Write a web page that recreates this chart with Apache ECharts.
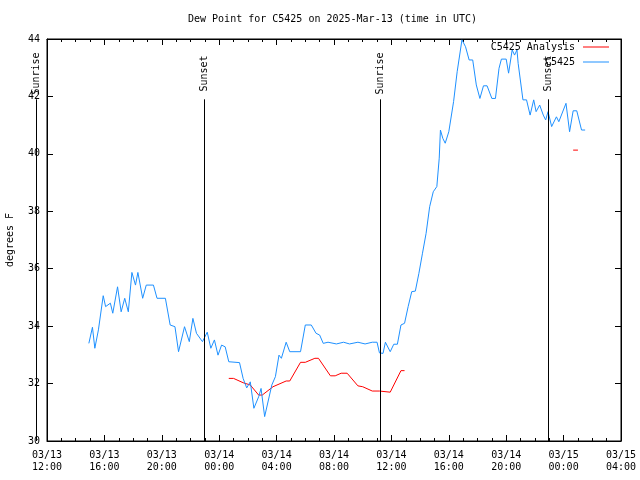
<!DOCTYPE html>
<html><head><meta charset="utf-8">
<script src="https://cdn.jsdelivr.net/npm/echarts@6/dist/echarts.min.js"></script>
<style>html,body{margin:0;padding:0;background:#fff}#c{width:640px;height:480px}</style>
</head><body><div id="c"></div>
<script>
const titleText = 'Dew Point for C5425 on 2025-Mar-13 (time in UTC)';
const yAxisName = 'degrees F';
const xMinTime = '2025-03-13 12:00';
const xMaxTime = '2025-03-15 04:00';
const yMin = 30, yMax = 44, yStep = 2;

const obsName = 'C5425';
const obsTimes = [
'2025-03-13 14:55','2025-03-13 15:10','2025-03-13 15:20','2025-03-13 15:35','2025-03-13 15:55',
'2025-03-13 16:05','2025-03-13 16:25','2025-03-13 16:35','2025-03-13 16:55','2025-03-13 17:10',
'2025-03-13 17:25','2025-03-13 17:40','2025-03-13 17:55','2025-03-13 18:10','2025-03-13 18:20',
'2025-03-13 18:40','2025-03-13 18:55','2025-03-13 19:25','2025-03-13 19:40','2025-03-13 20:15',
'2025-03-13 20:35','2025-03-13 20:55','2025-03-13 21:10','2025-03-13 21:35','2025-03-13 21:55',
'2025-03-13 22:10','2025-03-13 22:25','2025-03-13 22:50','2025-03-13 23:10','2025-03-13 23:25',
'2025-03-13 23:40','2025-03-13 23:55','2025-03-14 00:10','2025-03-14 00:25','2025-03-14 00:40',
'2025-03-14 01:25','2025-03-14 01:40','2025-03-14 01:55','2025-03-14 02:10','2025-03-14 02:25',
'2025-03-14 02:45','2025-03-14 02:55','2025-03-14 03:10','2025-03-14 03:40','2025-03-14 03:55',
'2025-03-14 04:10','2025-03-14 04:20','2025-03-14 04:40','2025-03-14 04:55','2025-03-14 05:40',
'2025-03-14 06:00','2025-03-14 06:25','2025-03-14 06:45','2025-03-14 07:00','2025-03-14 07:15',
'2025-03-14 07:35','2025-03-14 08:10','2025-03-14 08:40','2025-03-14 09:05','2025-03-14 09:40',
'2025-03-14 10:10','2025-03-14 10:40','2025-03-14 11:00','2025-03-14 11:10','2025-03-14 11:25',
'2025-03-14 11:35','2025-03-14 11:55','2025-03-14 12:10','2025-03-14 12:25','2025-03-14 12:40',
'2025-03-14 12:55','2025-03-14 13:10','2025-03-14 13:25','2025-03-14 13:40','2025-03-14 13:55',
'2025-03-14 14:10','2025-03-14 14:25','2025-03-14 14:40','2025-03-14 14:55','2025-03-14 15:10',
'2025-03-14 15:20','2025-03-14 15:25','2025-03-14 15:35','2025-03-14 15:45','2025-03-14 16:00',
'2025-03-14 16:20','2025-03-14 16:35','2025-03-14 16:55','2025-03-14 17:10','2025-03-14 17:25',
'2025-03-14 17:40','2025-03-14 17:55','2025-03-14 18:10','2025-03-14 18:25','2025-03-14 18:40',
'2025-03-14 19:00','2025-03-14 19:15','2025-03-14 19:30','2025-03-14 19:40','2025-03-14 20:00',
'2025-03-14 20:10','2025-03-14 20:25','2025-03-14 20:35','2025-03-14 20:45','2025-03-14 20:50',
'2025-03-14 21:10','2025-03-14 21:25','2025-03-14 21:40','2025-03-14 21:55','2025-03-14 22:05',
'2025-03-14 22:20','2025-03-14 22:35','2025-03-14 22:45','2025-03-14 22:55','2025-03-14 23:10',
'2025-03-14 23:30','2025-03-14 23:40','2025-03-15 00:10','2025-03-15 00:25','2025-03-15 00:40',
'2025-03-15 00:55','2025-03-15 01:15','2025-03-15 01:30'
];
const obsValues = [
33.40,33.96,33.23,33.87,35.06,
34.68,34.80,34.45,35.37,34.50,
34.97,34.50,35.87,35.43,35.87,
34.97,35.43,35.43,34.97,34.97,
34.04,33.98,33.11,33.98,33.46,
34.27,33.75,33.46,33.79,33.23,
33.52,32.99,33.34,33.28,32.76,
32.73,32.18,31.85,32.06,31.14,
31.54,31.83,30.85,31.95,32.24,
32.99,32.88,33.44,33.11,33.11,
34.04,34.04,33.75,33.69,33.40,
33.44,33.38,33.44,33.38,33.44,
33.38,33.44,33.44,33.07,33.05,
33.44,33.11,33.37,33.37,34.04,
34.10,34.68,35.20,35.22,35.84,
36.54,37.23,38.16,38.68,38.86,
39.85,40.83,40.54,40.37,40.77,
41.82,42.86,43.97,43.73,43.27,
43.27,42.40,41.93,42.37,42.37,
41.93,41.93,42.98,43.30,43.30,
42.81,43.62,43.44,43.62,43.15,
41.88,41.88,41.35,41.88,41.47,
41.70,41.35,41.18,41.47,40.95,
41.29,41.12,41.76,40.77,41.50,
41.50,40.83,40.83
];

const anaName = 'C5425 Analysis';
const anaTimes = [
'2025-03-14 00:40','2025-03-14 01:00','2025-03-14 01:40','2025-03-14 02:10','2025-03-14 02:45',
'2025-03-14 03:00','2025-03-14 03:45','2025-03-14 04:40','2025-03-14 04:55','2025-03-14 05:40',
'2025-03-14 06:00','2025-03-14 06:40','2025-03-14 06:55','2025-03-14 07:45','2025-03-14 08:05',
'2025-03-14 08:30','2025-03-14 08:55','2025-03-14 09:40','2025-03-14 10:00','2025-03-14 10:40',
'2025-03-14 11:10','2025-03-14 11:55','2025-03-14 12:40','2025-03-14 12:55',
'2025-03-14 18:00',
'2025-03-15 00:40','2025-03-15 01:00'
];
const anaValues = [
32.18,32.18,32.03,31.95,31.60,
31.60,31.89,32.09,32.09,32.74,
32.74,32.88,32.88,32.27,32.27,
32.36,32.36,31.92,31.89,31.74,
31.74,31.70,32.45,32.45,
null,
40.13,40.13
];

const eventTimes = ['2025-03-13 11:13','2025-03-13 22:56','2025-03-14 11:12','2025-03-14 22:55'];
const eventLabels = ['Sunrise','Sunset','Sunrise','Sunset'];

function t(s){
  const p = s.split(' '); const d = p[0].split('-').map(Number); const h = p[1].split(':').map(Number);
  return Date.UTC(d[0], d[1]-1, d[2], h[0], h[1]);
}
function pad(n){ return (n<10?'0':'')+n; }
function fmt(v){
  const d = new Date(v);
  return pad(d.getUTCMonth()+1)+'/'+pad(d.getUTCDate())+'\n'+pad(d.getUTCHours())+':'+pad(d.getUTCMinutes());
}
const FONT = '"DejaVu Sans Mono", monospace';
const HOUR = 3600000;
const xMin = t(xMinTime), xMax = t(xMaxTime);

const obsData = obsTimes.map((s,i)=>[t(s), obsValues[i]]);
const anaData = anaTimes.map((s,i)=>[t(s), anaValues[i]]);
const evData = eventTimes.map((s,i)=>[t(s), i]);

const chart = echarts.init(document.getElementById('c'), null, {renderer:'canvas'});
const xCommon = {
  type:'value', min:xMin, max:xMax, interval:4*HOUR,
  axisLine:{show:true, lineStyle:{color:'#000', width:1}},
  axisTick:{show:true, inside:true, length:6, lineStyle:{color:'#000'}},
  minorTick:{show:true, splitNumber:4, length:3, lineStyle:{color:'#000'}},
  splitLine:{show:false}
};
const yCommon = {
  type:'value', min:yMin, max:yMax, interval:yStep,
  axisLine:{show:true, lineStyle:{color:'#000', width:1}},
  axisTick:{show:true, inside:true, length:6, lineStyle:{color:'#000'}},
  splitLine:{show:false}
};
const legendCommon = {right:31, padding:0, align:'right', itemWidth:26, itemHeight:1, icon:'rect',
  selectedMode:false, textStyle:{fontFamily:FONT, fontSize:10, color:'#000', padding:[0,3,0,0]}};
chart.setOption({
  animation:false,
  backgroundColor:'#fff',
  title:{text:titleText, left:188, top:14, padding:0,
    textStyle:{fontFamily:FONT, fontSize:10, fontWeight:'normal', color:'#000'}},
  legend:[
    Object.assign({data:[anaName], top:42}, legendCommon),
    Object.assign({data:[obsName], top:57}, legendCommon)
  ],
  grid:{left:47, right:19, top:39, bottom:39, show:true, borderColor:'#000', borderWidth:1,
    containLabel:false, outerBoundsMode:'none'},
  xAxis:[
    Object.assign({}, xCommon, {position:'bottom',
      axisLabel:{show:true, formatter:fmt, fontFamily:FONT, fontSize:10, color:'#000', lineHeight:12, margin:8, showMinLabel:true, showMaxLabel:true}}),
    Object.assign({}, xCommon, {position:'top', axisLabel:{show:false}})
  ],
  yAxis:[
    Object.assign({}, yCommon, {position:'left', name:yAxisName, nameLocation:'middle', nameGap:32,
      nameTextStyle:{fontFamily:FONT, fontSize:10, color:'#000'},
      axisLabel:{show:true, fontFamily:FONT, fontSize:10, color:'#000', margin:7}}),
    Object.assign({}, yCommon, {position:'right', axisLabel:{show:false}})
  ],
  series:[
    {name:anaName, type:'line', data:anaData, symbol:'none', showSymbol:false, connectNulls:false,
      lineStyle:{color:'#ff0000', width:1}, itemStyle:{color:'#ff0000'}, z:3},
    {name:obsName, type:'line', data:obsData, symbol:'none', showSymbol:false,
      lineStyle:{color:'#1e90ff', width:1}, itemStyle:{color:'#1e90ff'}, z:4},
    {name:'events', type:'custom', data:evData, clip:false, z:5, silent:true,
      encode:{x:0, y:1},
      renderItem:function(params, api){
        const tv = api.value(0);
        const top = api.coord([tv, 41.9]);
        const bot = api.coord([tv, yMin]);
        const lab = api.coord([tv, 42.8]);
        const x = Math.round(top[0]) + 0.5;
        return {type:'group', children:[
          {type:'line', shape:{x1:x, y1:top[1], x2:x, y2:bot[1]}, style:{stroke:'#000', lineWidth:1}},
          {type:'text', x:x, y:lab[1], rotation:Math.PI/2,
            style:{text:eventLabels[params.dataIndex], font:'10px '+FONT, fill:'#000', align:'center', verticalAlign:'middle'}}
        ]};
      }}
  ]
});
</script>
</body></html>
